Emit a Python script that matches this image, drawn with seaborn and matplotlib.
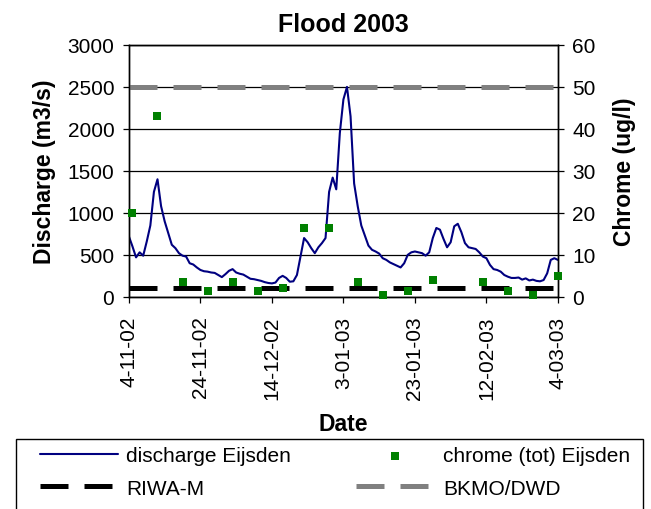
import matplotlib.pyplot as plt
import matplotlib.dates as mdates
from matplotlib.patches import Rectangle
from matplotlib.ticker import FuncFormatter
import seaborn as sns
import pandas as pd


# 数据: 每日流量, 从 2002-11-04 开始
start_date = "2002-11-04"
discharge = [
    720, 600, 470, 530, 490, 660, 850, 1250, 1400, 1080,
    900, 760, 620, 580, 520, 490, 480, 400, 385, 350,
    320, 305, 300, 290, 285, 260, 235, 270, 310, 330,
    290, 275, 265, 240, 215, 210, 200, 190, 175, 165,
    160, 170, 225, 250, 225, 180, 185, 260, 480, 700,
    650, 580, 520, 590, 640, 700, 1250, 1420, 1280, 1950,
    2350, 2500, 2150, 1350, 1080, 850, 730, 610, 560, 540,
    515, 460, 440, 410, 390, 370, 350, 400, 500, 530,
    540, 530, 520, 490, 530, 700, 820, 800, 690, 590,
    650, 840, 870, 770, 640, 590, 580, 570, 530, 480,
    460, 380, 330, 320, 300, 260, 240, 225, 225, 230,
    205, 220, 195, 205, 190, 185, 200, 280, 440, 460,
    440,
]

chrome_dates = [
    "2002-11-05", "2002-11-12", "2002-11-19", "2002-11-26", "2002-12-03",
    "2002-12-10", "2002-12-17", "2002-12-23", "2002-12-30", "2003-01-07",
    "2003-01-14", "2003-01-21", "2003-01-28", "2003-02-11", "2003-02-18",
    "2003-02-25", "2003-03-04",
]
chrome = [20, 43, 3.5, 1.5, 3.5, 1.5, 2, 16.3, 16.3, 3.5,
          0.5, 1.5, 4, 3.5, 1.5, 0.5, 5]

riwa_limit = 2
bkmo_limit = 50

sns.set_style("ticks")
plt.rcParams['font.family'] = ['Liberation Sans', 'DejaVu Sans']
plt.rcParams['text.color'] = 'black'
plt.rcParams['axes.labelcolor'] = 'black'

days = pd.date_range(start_date, periods=len(discharge), freq="D")
df_q = pd.DataFrame({"date": days, "discharge": discharge})
df_c = pd.DataFrame({"date": pd.to_datetime(chrome_dates), "chrome": chrome})

fig, ax = plt.subplots(figsize=(6.51, 5.10), dpi=100)
fig.subplots_adjust(left=0.198, right=0.857, top=0.910, bottom=0.416)
ax2 = ax.twinx()

sns.lineplot(data=df_q, x="date", y="discharge", ax=ax, color="#000080",
             linewidth=1.5, label="discharge Eijsden", legend=False)
sns.scatterplot(data=df_c, x="date", y="chrome", ax=ax2, marker="s", s=30,
                color="#008000", linewidth=0, label="chrome (tot) Eijsden",
                legend=False, clip_on=False, zorder=5)
ax2.axhline(riwa_limit, color="black", lw=3.6, dashes=(5.6, 3.2), label="RIWA-M")
ax2.axhline(bkmo_limit, color="#808080", lw=3.6, dashes=(5.6, 3.2), label="BKMO/DWD")

ax.set_xlim(days[0], days[-1])
ax.set_ylim(0, 3000)
ax2.set_ylim(0, 60)
ax.set_yticks(range(0, 3001, 500))
ax2.set_yticks(range(0, 61, 10))
ax.set_xticks(pd.date_range(start_date, periods=7, freq="20D"))
ax.xaxis.set_major_formatter(FuncFormatter(
    lambda v, p: f"{mdates.num2date(v).day}-{mdates.num2date(v):%m-%y}"))

ax.yaxis.grid(True, color="black", linewidth=0.9)
for a in (ax, ax2):
    for s in a.spines.values():
        s.set_color("black")
        s.set_linewidth(1.0)
    a.tick_params(direction="out", length=4.5, width=0.9, colors="black",
                  labelsize=15, pad=6)
ax.tick_params(axis="x", rotation=90, pad=9)

ax.set_title("Flood 2003", fontsize=18, fontweight="bold", pad=10)
ax.set_xlabel("Date", fontsize=16.5, fontweight="bold", labelpad=9)
ax.set_ylabel("Discharge (m3/s)", fontsize=16.5, fontweight="bold", labelpad=8)
ax2.set_ylabel("Chrome (ug/l)", fontsize=16.5, fontweight="bold", labelpad=12)

h1, l1 = ax.get_legend_handles_labels()
h2, l2 = ax2.get_legend_handles_labels()
handles = [h1[0], h2[1], h2[0], h2[2]]
labels = [l1[0], l2[1], l2[0], l2[2]]
leg = fig.legend(handles, labels, ncol=2, loc="upper left",
                 bbox_to_anchor=(40 / 651, 0.0, 590 / 651, 1 - 447 / 510),
                 mode="expand", borderaxespad=0, borderpad=0, fontsize=15,
                 handlelength=3.75, handletextpad=0.4, labelspacing=0.65,
                 frameon=False, scatterpoints=1)

# 图例外框 (下边在图外)
fig.patches.append(Rectangle((16 / 651, -0.1), 627 / 651, 0.1 + 70 / 510,
                             transform=fig.transFigure, facecolor="none",
                             edgecolor="black", linewidth=1.0))

plt.savefig("out.png", dpi=100)
